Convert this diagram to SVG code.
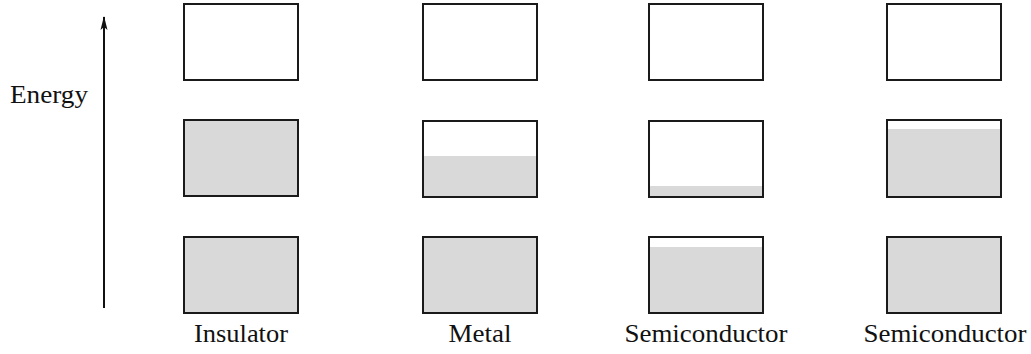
<svg xmlns="http://www.w3.org/2000/svg" width="1031" height="354" viewBox="0 0 1031 354">
<defs>
<style>
.box{fill:none;stroke:#1a1a1a;stroke-width:2}
.bg{fill:#fff}
.fill{fill:#d9d9d9}
.lbl{font-size:25px;fill:#111;text-anchor:middle}
.axis{stroke:#111;stroke-width:2;fill:none}
</style>
<marker id="ah" viewBox="0 0 14 8" refX="13" refY="4" markerWidth="14" markerHeight="8" markerUnits="userSpaceOnUse" orient="auto">
<path d="M0,0.5 L14,4 L0,7.5 L3,4 Z" fill="#111"/>
</marker>
</defs>
<rect width="1031" height="354" fill="#fff"/>
<g id="connectors">
<line class="axis" x1="104" y1="308" x2="104" y2="17" marker-end="url(#ah)"/>
</g>
<g font-family="'Liberation Serif', 'DejaVu Serif', serif">
<text class="lbl" x="10" y="103" style="text-anchor:start" textLength="78" lengthAdjust="spacingAndGlyphs">Energy</text>
</g>
<g id="insulator" font-family="'Liberation Serif', 'DejaVu Serif', serif">
<rect class="box bg" x="184" y="4" width="114" height="76"/>
<rect class="fill" x="184" y="120" width="114" height="76"/><rect class="box" x="184" y="120" width="114" height="76"/>
<rect class="fill" x="184" y="237" width="114" height="76"/><rect class="box" x="184" y="237" width="114" height="76"/>
<text class="lbl" x="241" y="342" textLength="94" lengthAdjust="spacingAndGlyphs">Insulator</text>
</g>
<g id="metal" font-family="'Liberation Serif', 'DejaVu Serif', serif">
<rect class="box bg" x="423" y="4" width="114" height="76"/>
<rect class="fill" x="423" y="156" width="114" height="41"/><rect class="box" x="423" y="121" width="114" height="76"/>
<rect class="fill" x="423" y="237" width="114" height="76"/><rect class="box" x="423" y="237" width="114" height="76"/>
<text class="lbl" x="480" y="342" textLength="63" lengthAdjust="spacingAndGlyphs">Metal</text>
</g>
<g id="semiconductor1" font-family="'Liberation Serif', 'DejaVu Serif', serif">
<rect class="box bg" x="649" y="4" width="114" height="76"/>
<rect class="fill" x="649" y="186" width="114" height="11"/><rect class="box" x="649" y="121" width="114" height="76"/>
<rect class="fill" x="649" y="247" width="114" height="66"/><rect class="box" x="649" y="237" width="114" height="76"/>
<text class="lbl" x="706" y="342" textLength="163" lengthAdjust="spacingAndGlyphs">Semiconductor</text>
</g>
<g id="semiconductor2" font-family="'Liberation Serif', 'DejaVu Serif', serif">
<rect class="box bg" x="887" y="4" width="114" height="76"/>
<rect class="fill" x="887" y="129" width="114" height="68"/><rect class="box" x="887" y="120" width="114" height="77"/>
<rect class="fill" x="887" y="237" width="114" height="76"/><rect class="box" x="887" y="237" width="114" height="76"/>
<text class="lbl" x="945" y="342" textLength="163" lengthAdjust="spacingAndGlyphs">Semiconductor</text>
</g>
</svg>
